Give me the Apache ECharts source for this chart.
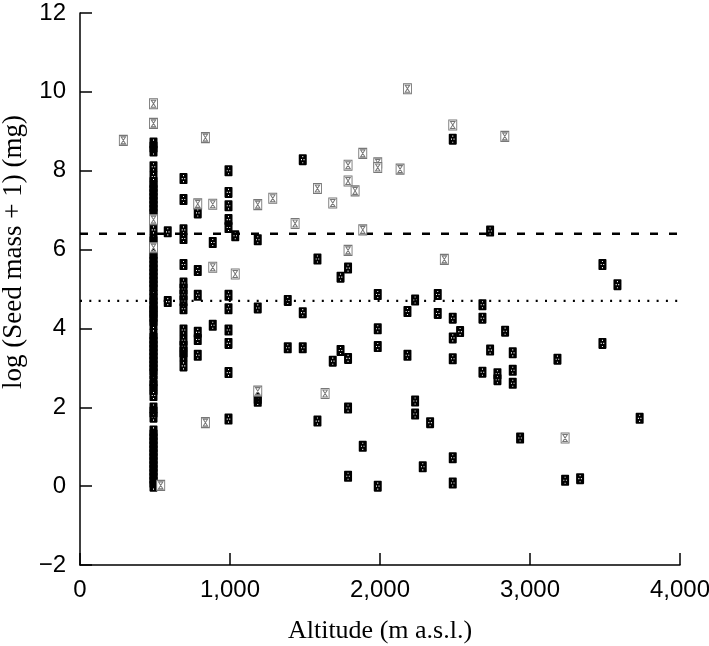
<!DOCTYPE html>
<html>
<head>
<meta charset="utf-8">
<script src="https://cdn.jsdelivr.net/npm/echarts@6/dist/echarts.min.js"></script>
<style>
html,body{margin:0;padding:0;background:#fff;}
#chart{width:709px;height:646px;}
</style>
</head>
<body>
<div id="chart"></div>
<script>
// Altitude (m a.s.l.) vs log(Seed mass + 1) (mg)
const darkPoints = [
  [490,0.0],[490,0.1],[490,0.2],[490,0.3],[490,0.4],[490,0.5],[490,0.6],[490,0.7],[490,0.8],[490,0.9],
  [490,1.0],[490,1.1],[490,1.2],[490,1.3],[490,1.4],[490,1.75],[490,1.88],[490,1.98],
  [490,2.3],[490,2.45],[490,2.55],[490,2.67],
  [490,2.85],[490,2.95],[490,3.05],[490,3.15],[490,3.25],[490,3.35],[490,3.45],[490,3.55],[490,3.65],[490,3.75],[490,3.86],
  [490,4.1],[490,4.2],[490,4.3],[490,4.4],[490,4.45],[490,4.55],[490,4.65],[490,4.75],[490,4.85],[490,4.98],
  [490,5.08],[490,5.18],[490,5.28],[490,5.38],[490,5.48],[490,5.58],[490,5.68],[490,5.8],[490,5.9],
  [490,6.2],[490,6.25],[490,6.5],
  [490,6.9],[490,7.0],[490,7.1],[490,7.2],[490,7.3],[490,7.4],[490,7.5],[490,7.6],[490,7.7],[490,7.85],
  [490,8.1],[490,8.5],[490,8.6],[490,8.7],
  [585,6.45],[585,4.68],
  [690,7.8],[690,7.27],[690,6.5],[690,6.28],[690,5.62],[690,5.15],[690,5.0],[690,4.85],[690,4.7],[690,4.5],
  [690,3.96],[690,3.7],[690,3.55],[690,3.4],[690,3.3],[690,3.05],
  [785,6.93],[785,5.47],[785,4.84],[785,3.9],[785,3.72],[785,3.32],
  [885,6.18],[885,4.08],
  [990,8.0],[990,7.45],[990,7.11],[990,6.76],[990,6.56],[990,4.84],[990,4.5],[990,3.96],[990,3.62],[990,2.88],[990,1.7],
  [1035,6.35],
  [1185,6.25],[1185,4.52],[1185,2.22],[1185,2.15],
  [1385,4.71],[1385,3.51],
  [1485,8.28],[1485,4.4],[1485,3.51],
  [1583,5.76],[1583,1.65],
  [1685,3.17],
  [1737,5.3],[1737,3.44],
  [1787,5.53],[1787,3.24],[1787,1.98],[1787,0.25],
  [1885,1.01],
  [1985,4.86],[1985,3.99],[1985,3.54],[1985,0.0],
  [2183,4.43],[2183,3.32],
  [2234,4.72],[2234,2.16],[2234,1.83],
  [2285,0.49],
  [2334,1.61],
  [2385,4.86],[2385,4.38],
  [2485,8.8],[2485,4.26],[2485,3.76],[2485,3.23],[2485,0.72],[2485,0.08],
  [2534,3.92],
  [2683,4.6],[2683,4.26],[2683,2.89],
  [2734,6.47],[2734,3.45],
  [2783,2.85],[2783,2.7],
  [2834,3.93],
  [2885,3.38],[2885,2.94],[2885,2.61],
  [2934,1.22],
  [3183,3.22],
  [3234,0.15],
  [3334,0.19],
  [3483,5.62],[3483,3.62],
  [3583,5.11],
  [3731,1.72]
];
const lightPoints = [
  [289,8.77],
  [490,9.7],[490,9.2],[490,6.76],[490,6.05],
  [538,0.02],
  [785,7.16],
  [836,8.84],[836,1.61],
  [885,7.15],[885,5.55],
  [1035,5.38],
  [1185,7.14],[1185,2.41],
  [1285,7.3],
  [1434,6.66],
  [1583,7.55],
  [1634,2.35],
  [1685,7.18],
  [1787,8.14],[1787,7.74],[1787,5.98],
  [1834,7.49],
  [1885,8.44],[1885,6.5],
  [1985,8.2],[1985,8.08],
  [2134,8.04],
  [2183,10.08],
  [2429,5.75],
  [2485,9.16],
  [2832,8.87],
  [3234,1.22]
];
const dashedLevel = 6.4;
const dottedLevel = 4.7;
const xRange = [0, 4000];
const yRange = [-2, 12];

const darkSymbol = 'path://M1.5,0 H14.5 Q16,0 16,1.5 V18.5 Q16,20 14.5,20 H1.5 Q0,20 0,18.5 V1.5 Q0,0 1.5,0 Z ' +
  'M7,3.5 V5.5 H9 V3.5 Z M4.5,9 V11 H6.5 V9 Z M9.5,9 V11 H11.5 V9 Z M7,14.5 V16.5 H9 V14.5 Z';
const lightSymbol = 'path://M0,0 H16 V20 H0 Z M3.5,3 H12.5 L3.5,17 H12.5 Z';

const chart = echarts.init(document.getElementById('chart'), null, {renderer: 'canvas'});
const tickFont = {fontFamily: '"Liberation Sans", Arial, sans-serif', fontSize: 24, color: '#000'};
const titleFont = {fontFamily: '"Liberation Serif", "Times New Roman", serif', fontSize: 27, color: '#000'};

chart.setOption({
  animation: false,
  backgroundColor: '#fff',
  grid: {left: 80, right: 29, top: 13, bottom: 81, containLabel: false, outerBoundsMode: 'none'},
  xAxis: {
    type: 'value', min: xRange[0], max: xRange[1], interval: 1000,
    name: 'Altitude (m a.s.l.)', nameLocation: 'middle', nameGap: 53,
    nameTextStyle: Object.assign({}, titleFont, {fontSize: 26}),
    axisLine: {show: true, onZero: false, lineStyle: {color: '#000', width: 1.5}},
    axisTick: {show: true, inside: true, length: 12, lineStyle: {color: '#000', width: 1.5}},
    axisLabel: Object.assign({margin: 13, formatter: v => v.toLocaleString('en-US')}, tickFont),
    splitLine: {show: false}
  },
  yAxis: {
    type: 'value', min: yRange[0], max: yRange[1], interval: 2,
    name: 'log (Seed mass + 1) (mg)', nameLocation: 'middle', nameGap: 42,
    nameTextStyle: Object.assign({padding: [0, 0, 0, 74]}, titleFont),
    axisLine: {show: true, onZero: false, lineStyle: {color: '#000', width: 1.5}},
    axisTick: {show: true, inside: true, length: 12, lineStyle: {color: '#000', width: 1.5}},
    axisLabel: Object.assign({margin: 14, formatter: v => String(v).replace('-', '\u2212')}, tickFont),
    splitLine: {show: false}
  },
  series: [
    {
      type: 'line', z: 1, symbol: 'none', silent: true,
      data: [[xRange[0], dashedLevel], [xRange[1], dashedLevel]],
      lineStyle: {color: '#000', width: 2.6, type: [8, 11]}
    },
    {
      type: 'line', z: 1, symbol: 'none', silent: true,
      data: [[xRange[0], dottedLevel], [xRange[1], dottedLevel]],
      lineStyle: {color: '#000', width: 2.2, type: [2, 7.3]}
    },
    {
      type: 'scatter', z: 2, symbol: darkSymbol, symbolSize: [8, 11],
      data: darkPoints,
      itemStyle: {color: '#000', borderColor: '#000', borderWidth: 0, opacity: 1}
    },
    {
      type: 'scatter', z: 3, symbol: lightSymbol, symbolSize: [8, 10],
      data: lightPoints,
      itemStyle: {color: '#fff', borderColor: '#777', borderWidth: 1, opacity: 1}
    }
  ]
});
</script>
</body>
</html>
